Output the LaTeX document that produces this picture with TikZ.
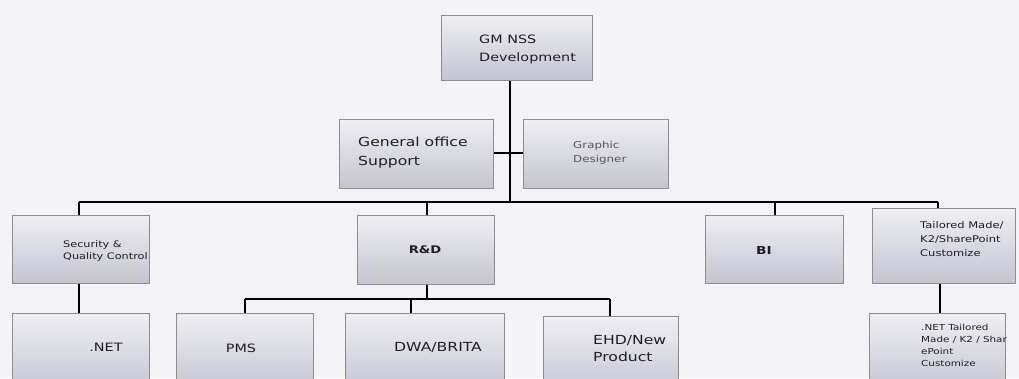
\documentclass[tikz,border=0pt]{standalone}
\usepackage{fontspec}
\setmainfont[FakeStretch=1.25]{DejaVu Sans}
\definecolor{bg}{RGB}{242,242,247}
\definecolor{boxtop}{RGB}{238,238,243}
\definecolor{boxbot}{RGB}{196,196,208}
\definecolor{boxedge}{RGB}{140,140,145}
\definecolor{ink}{RGB}{30,30,35}
\begin{document}
\begin{tikzpicture}[x=1pt,y=-1pt,
  box/.style={draw=boxedge, line width=0.8pt, top color=boxtop, bottom color=boxbot, anchor=north west, inner sep=0pt},
  conn/.style={draw=black, line width=1.6pt},
  lbl/.style n args={2}{anchor=west, align=left, inner sep=0pt, text=ink, font=\fontsize{#1}{#2}\selectfont},
  lblc/.style={anchor=center, align=center, inner sep=0pt, text=ink, font=\fontsize{#1}{#1}\selectfont}]
\clip (0,0) rectangle (1019,378);
\fill[bg] (0,0) rectangle (1019,378);
% boxes
\node[box, minimum width=151, minimum height=65] (top) at (441,15) {};
\node[box, minimum width=154, minimum height=69] (gen) at (339,119) {};
\node[box, minimum width=145, minimum height=69] (gra) at (523,119) {};
\node[box, minimum width=137, minimum height=68] (sec) at (12,215) {};
\node[box, minimum width=137, minimum height=69] (rd) at (357,215) {};
\node[box, minimum width=138, minimum height=68] (bi) at (705,215) {};
\node[box, minimum width=143, minimum height=75] (tai) at (872,208) {};
\node[box, minimum width=137, minimum height=80] (net) at (12,313) {};
\node[box, minimum width=137, minimum height=80] (pms) at (176,313) {};
\node[box, minimum width=159, minimum height=80] (dwa) at (345,313) {};
\node[box, minimum width=135, minimum height=80] (ehd) at (543,316) {};
\node[box, minimum width=136, minimum height=80] (nett) at (869,313) {};
% labels
\node[lbl={11.5}{18}] (tTop) at (479,49) {GM NSS\\Development};
\node[lbl={12.5}{19}] (tGen) at (358,153) {General office\\Support};
\node[lbl={9.5}{14}, text=ink!75] (tGra) at (573,153) {Graphic\\Designer};
\node[lbl={9}{12}] (tSec) at (63,251) {Security \&\\Quality Control};
\node[lblc=10.5, font=\fontsize{10.5}{10.5}\selectfont\bfseries] (tRd) at (425,250) {R\&D};
\node[lblc=11, font=\fontsize{11}{11}\selectfont\bfseries] (tBi) at (764,250) {BI};
\node[lbl={9.2}{14}] (tTai) at (920,239) {Tailored Made/\\K2/SharePoint\\Customize};
\node[lblc=11.5] (tNet) at (106,347) {.NET};
\node[lblc=11.5] (tPms) at (241,348) {PMS};
\node[lblc=12.5] (tDwa) at (438,348) {DWA/BRITA};
\node[lbl={12.5}{17}] (tEhd) at (593,349) {EHD/New\\Product};
\node[lbl={8.3}{12}] (tNett) at (921,345) {.NET Tailored\\Made / K2 / Shar\\ePoint\\Customize};
% connectors
\coordinate (busL) at (79,202);
\coordinate (busR) at (938,202);
\coordinate (busM) at (510,202);
\coordinate (tick) at (510,153);
\coordinate (rdbusL) at (245,299);
\coordinate (rdbusR) at (610,299);
\draw[conn, line width=2.2pt] (top.south -| busM) -- (busM);
\draw[conn] (gen.east |- tick) -- (gra.west |- tick);
\draw[conn] (busL) -- (busR);
\draw[conn] (busL) -- (busL |- sec.north);
\draw[conn] (427,202) -- (rd.north -| 427,0);
\draw[conn] (775,202) -- (bi.north -| 775,0);
\draw[conn] (busR) -- (tai.north -| busR);
\draw[conn] (sec.south -| 79,0) -- (net.north -| 79,0);
\draw[conn] (tai.south -| 940,0) -- (nett.north -| 940,0);
\draw[conn, line width=2pt] (rd.south -| 427,0) -- (427,299);
\draw[conn] (rdbusL) -- (rdbusR);
\draw[conn] (rdbusL) -- (pms.north -| rdbusL);
\draw[conn] (411,299) -- (dwa.north -| 411,0);
\draw[conn] (rdbusR) -- (ehd.north -| rdbusR);
\end{tikzpicture}
\end{document}
